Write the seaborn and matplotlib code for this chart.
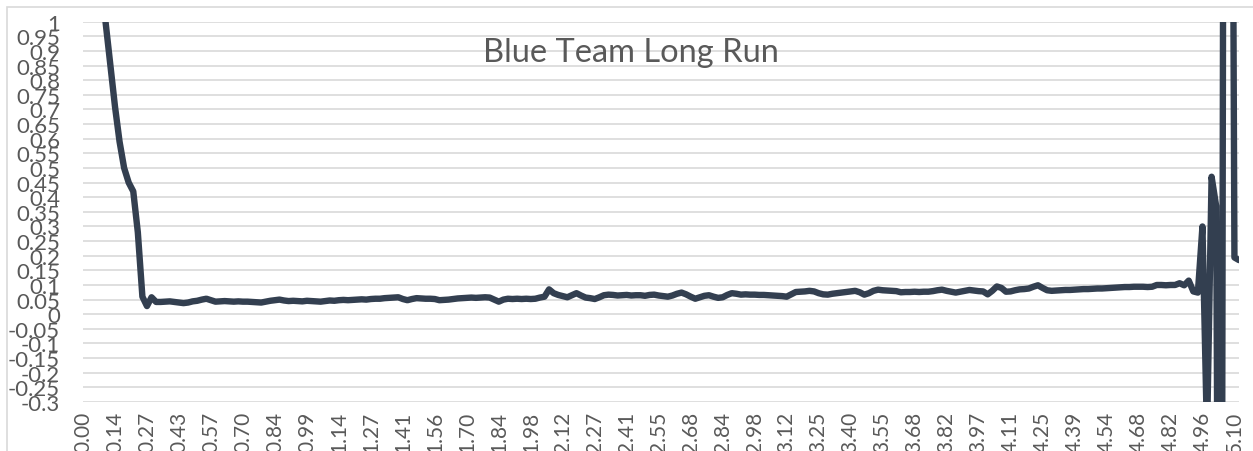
import matplotlib
matplotlib.use("Agg")
import matplotlib.pyplot as plt
import numpy as np
import pandas as pd
import seaborn as sns
from matplotlib.patches import Rectangle

# --- data (one value per category) ---
run_values = [
    1.70, 1.55, 1.40, 1.27, 1.13, 0.99, 0.85, 0.71, 0.59, 0.50,
    0.45, 0.42, 0.28, 0.06, 0.028, 0.058, 0.042, 0.042, 0.043, 0.044,
    0.042, 0.040, 0.038, 0.040, 0.044, 0.046, 0.050, 0.053, 0.048, 0.043,
    0.044, 0.045, 0.044, 0.043, 0.044, 0.043, 0.043, 0.042, 0.041, 0.040,
    0.043, 0.046, 0.048, 0.050, 0.047, 0.045, 0.046, 0.045, 0.044, 0.046,
    0.045, 0.044, 0.043, 0.045, 0.047, 0.046, 0.048, 0.049, 0.048, 0.049,
    0.050, 0.051, 0.050, 0.052, 0.053, 0.053, 0.055, 0.056, 0.057, 0.058,
    0.052, 0.048, 0.052, 0.055, 0.054, 0.053, 0.053, 0.052, 0.048, 0.049,
    0.050, 0.052, 0.054, 0.055, 0.056, 0.057, 0.056, 0.057, 0.058, 0.057,
    0.050, 0.043, 0.050, 0.053, 0.052, 0.053, 0.052, 0.053, 0.052, 0.053,
    0.057, 0.060, 0.085, 0.072, 0.066, 0.062, 0.058, 0.065, 0.072, 0.064,
    0.057, 0.055, 0.052, 0.058, 0.065, 0.067, 0.066, 0.064, 0.065, 0.066,
    0.064, 0.065, 0.065, 0.063, 0.066, 0.067, 0.064, 0.062, 0.060, 0.064,
    0.070, 0.074, 0.068, 0.060, 0.053, 0.058, 0.063, 0.065, 0.060, 0.056,
    0.058, 0.066, 0.072, 0.070, 0.067, 0.068, 0.067, 0.067, 0.066, 0.066,
    0.065, 0.064, 0.063, 0.062, 0.060, 0.068, 0.076, 0.077, 0.078, 0.080,
    0.078, 0.072, 0.068, 0.067, 0.070, 0.072, 0.074, 0.076, 0.078, 0.080,
    0.075, 0.067, 0.072, 0.080, 0.084, 0.082, 0.081, 0.080, 0.079, 0.075,
    0.076, 0.076, 0.077, 0.076, 0.077, 0.077, 0.079, 0.082, 0.084, 0.080,
    0.077, 0.074, 0.077, 0.080, 0.083, 0.081, 0.079, 0.078, 0.068, 0.080,
    0.095, 0.090, 0.077, 0.078, 0.082, 0.085, 0.086, 0.088, 0.094, 0.099,
    0.090, 0.082, 0.080, 0.081, 0.082, 0.083, 0.083, 0.084, 0.085, 0.086,
    0.086, 0.087, 0.088, 0.088, 0.089, 0.090, 0.091, 0.092, 0.093, 0.093,
    0.094, 0.094, 0.094, 0.093, 0.094, 0.100, 0.100, 0.099, 0.100, 0.100,
    0.106, 0.099, 0.115, 0.078, 0.074, 0.30, -0.42, 0.47, 0.37, -3.0,
    5.0, 4.0, 0.194, 0.185,
]

x_labels = [
    "0.00", "0.14", "0.27", "0.43", "0.57", "0.70", "0.84", "0.99", "1.14",
    "1.27", "1.41", "1.56", "1.70", "1.84", "1.98", "2.12", "2.27", "2.41",
    "2.55", "2.68", "2.84", "2.98", "3.12", "3.25", "3.40", "3.55", "3.68",
    "3.82", "3.97", "4.11", "4.25", "4.39", "4.54", "4.68", "4.82", "4.96",
    "5.10",
]
label_every = 7  # one category label per 7 points

y_labels = [
    "1", "0.95", "0.9", "0.85", "0.8", "0.75", "0.7", "0.65", "0.6", "0.55",
    "0.5", "0.45", "0.4", "0.35", "0.3", "0.25", "0.2", "0.15", "0.1", "0.05",
    "0", "-0.05", "-0.1", "-0.15", "-0.2", "-0.25", "-0.3",
]

title = "Blue Team Long Run"

# --- style ---
sns.set_style("white")
plt.rcParams["font.family"] = ["Lato", "DejaVu Sans"]
text_grey = "#595959"
grid_grey = "#D9D9D9"
line_color = "#333F50"

df = pd.DataFrame({"step": np.arange(len(run_values)), "value": run_values})

fig = plt.figure(figsize=(12.53, 4.52), dpi=100)
ax = fig.add_axes([83 / 1253, 1 - 403 / 452, (1239 - 83) / 1253, (403 - 22.7) / 452])

sns.lineplot(
    data=df,
    x="step",
    y="value",
    ax=ax,
    color=line_color,
    linewidth=4.6,
    sort=False,
    solid_joinstyle="round",
    solid_capstyle="round",
)

y_ticks = [float(s) for s in y_labels]
ax.set_ylim(min(y_ticks), max(y_ticks))
ax.set_xlim(0, len(run_values) - 1)

ax.set_yticks(y_ticks)
ax.set_yticklabels(y_labels)
ax.set_xticks(np.arange(len(x_labels)) * label_every)
ax.set_xticklabels(x_labels, rotation=90)

ax.tick_params(axis="y", length=0, pad=16.5, labelsize=16, labelcolor=text_grey)
ax.tick_params(axis="x", length=0, pad=6.5, labelsize=15, labelcolor=text_grey)

ax.yaxis.grid(True, color=grid_grey, linewidth=1.2)
ax.xaxis.grid(False)
ax.set_axisbelow(True)
for spine in ax.spines.values():
    spine.set_visible(False)
ax.set_xlabel("")
ax.set_ylabel("")

fig.text(631 / 1253, 1 - 53 / 452, title, ha="center", va="center",
         fontsize=23.5, color=text_grey)

# light chart-area border, cut by the image edges like the reference
fig.patches.append(Rectangle((7 / 1253, -0.1), 1.2, 1 - 8 / 452 + 0.1,
                             transform=fig.transFigure, fill=False,
                             edgecolor=grid_grey, linewidth=1.2, zorder=0))

fig.savefig("out.png", dpi=100)
plt.close(fig)
